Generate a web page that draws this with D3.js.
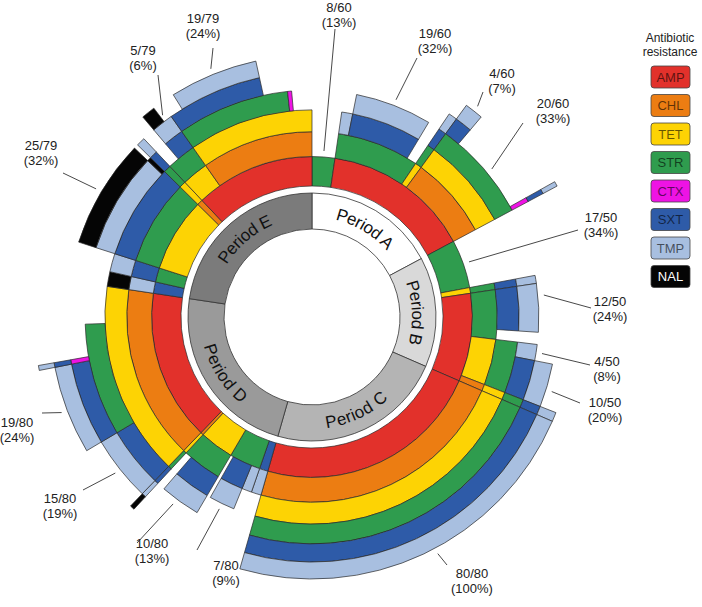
<!DOCTYPE html>
<html><head><meta charset="utf-8">
<script src="https://cdn.jsdelivr.net/npm/d3@7"></script>
<style>
body{margin:0;background:#fff;}
text{font-family:"Liberation Sans",Arial,Helvetica,sans-serif;}
</style>
</head><body>
<svg id="chart" width="702" height="607"></svg>
<script>
// ---------- data ----------
const antibiotics = ["AMP","CHL","TET","STR","CTX","SXT","TMP","NAL"];
const periodNames = ["Period A","Period B","Period C","Period D","Period E"];

// resistance profiles per period, in drawing order (clockwise): [profile, isolates]
const periodA = [["STR",8],["AMP-STR-TMP",3],["AMP-STR-SXT-TMP",19],["AMP-STR",3],["AMP-TET-STR-SXT-TMP",2],
  ["AMP-CHL-TET-STR-SXT-TMP",4],["AMP-CHL-TET-STR",20],["AMP-CHL-TET-STR-CTX-SXT-TMP",1]];
const periodB = [["STR",17],["TET-STR-SXT-TMP",2],["AMP-STR-SXT-TMP",12],["AMP-STR",3],["AMP-TET-STR-TMP",4],
  ["AMP-TET-STR-SXT-TMP",10],["AMP-CHL-TET-STR-SXT-TMP",2]];
const periodC = [["AMP-CHL-TET-STR-SXT-TMP",80]];
const periodD = [["SXT-TMP",3],["STR-TMP",3],["STR-SXT-TMP",7],["STR",1],["TET-STR-SXT-TMP",10],["TET-STR",2],
  ["CHL-TET-STR-SXT-TMP-NAL",1],["AMP-CHL-TET-SXT-TMP",15],["AMP-CHL-TET-STR-SXT-TMP",19],
  ["AMP-CHL-TET-STR-CTX-SXT-TMP",1],["AMP-CHL-TET-STR",8],["AMP-CHL-TET",10]];
const periodE = [["SXT-TMP-NAL",4],["STR-SXT-TMP",5],["TET-STR-SXT-TMP-NAL",25],["TET-STR-SXT-NAL",1],
  ["CHL-TET-STR-SXT-TMP",2],["AMP-TET-STR",3],["AMP-TET-STR-SXT-TMP-NAL",3],["AMP-TET-STR-SXT-TMP",2],
  ["AMP-CHL-TET-STR-SXT",3],["AMP-CHL-TET-STR-SXT-TMP",19],["AMP-CHL-TET-STR",6],
  ["AMP-CHL-TET-CTX",1],["AMP-CHL-TET",5]];
const periodData = [periodA, periodB, periodC, periodD, periodE];

// annotated profiles: [period index, profile index]
const labelTargets = [[0,0],[0,2],[0,5],[0,6],[1,0],[1,2],[1,4],[1,5],[2,0],[3,2],[3,4],[3,7],[3,8],[4,2],[4,7],[4,9]];
const labelTexts = [["8/60","(13%)"],["19/60","(32%)"],["4/60","(7%)"],["20/60","(33%)"],
  ["17/50","(34%)"],["12/50","(24%)"],["4/50","(8%)"],["10/50","(20%)"],["80/80","(100%)"],
  ["7/80","(9%)"],["10/80","(13%)"],["15/80","(19%)"],["19/80","(24%)"],
  ["25/79","(32%)"],["5/79","(6%)"],["19/79","(24%)"]];

// ---------- layout / style ----------
const colors = {AMP:"#e2312b",CHL:"#ec7d12",TET:"#fdd304",STR:"#2f9c4e",CTX:"#ee13e4",SXT:"#2e5ba8",TMP:"#a8bfe0",NAL:"#050505"};
const periodFill = ["#ffffff","#d9d9d9","#b4b4b4","#9a9a9a","#7b7b7b"];
// label text anchor [x, baseline] and leader outer end [x,y], plus angular position inside the profile
const labelLayout = [
  {t:[339,12], e:[335,29], f:0.5},{t:[435,38], e:[417,58], f:0.5},{t:[502,78], e:[483,92], f:0.5},{t:[553,108], e:[523,123], f:0.5},
  {t:[601,222], e:[578,230], f:0.5},{t:[610,306], e:[591,308], f:0.25},{t:[607,366], e:[590,365], f:0.5},{t:[605,407], e:[580,403], f:0.6},
  {t:[472,578], e:[447,565], f:0.467},
  {t:[226,570], e:[197,550], f:0.5},{t:[152,548], e:[137,543], f:0.6},{t:[60,503], e:[83,490], f:0.5},{t:[17,427], e:[42,413], f:0.5},
  {t:[41,150], e:[63,173], f:0.5},{t:[143,55], e:[158,75], f:0.3},{t:[203,23], e:[213,48], f:0.5}
];

const cx = 312, cy = 317;
const svg = d3.select("#chart");
const g = svg.append("g").attr("transform", `translate(${cx},${cy})`);

const total = d3.sum(periodData, p => d3.sum(p, d => d[1]));
const angle = d3.scaleLinear().domain([0, total]).range([0, 2 * Math.PI]);
const radius = d3.scaleSqrt().domain([0, 9]).range([0, Math.sqrt(9 * 8580)]);

// build segments, merging consecutive profiles that share a prefix
let offset = 0;
const segs = [], periodArcs = [], items = [];
periodData.forEach((profiles, pi) => {
  const start = offset;
  const its = profiles.map(([s, c]) => { const it = {path: s.split("-"), a0: offset, a1: offset + c}; offset += c; return it; });
  periodArcs.push({pi, a0: start, a1: offset});
  items.push(its);
  const maxLen = d3.max(its, d => d.path.length);
  for (let k = 0; k < maxLen; k++) {
    let cur = null;
    its.forEach(it => {
      if (it.path.length <= k) { cur = null; return; }
      const key = it.path.slice(0, k + 1).join("-");
      if (cur && cur.key === key) cur.a1 = it.a1;
      else { cur = {key, k, ab: it.path[k], a0: it.a0, a1: it.a1}; segs.push(cur); }
    });
  }
});

const arc = d3.arc()
  .innerRadius(d => radius(d.k + 2)).outerRadius(d => radius(d.k + 3))
  .startAngle(d => angle(d.a0)).endAngle(d => angle(d.a1));

g.append("g").selectAll("path").data(segs).join("path")
  .attr("d", arc).attr("fill", d => colors[d.ab])
  .attr("stroke", "#2a2a2a").attr("stroke-width", 0.7).attr("stroke-linejoin", "round");

// period ring
const pArc = d3.arc().innerRadius(88).outerRadius(124)
  .startAngle(d => angle(d.a0)).endAngle(d => angle(d.a1));
g.append("g").selectAll("path").data(periodArcs).join("path")
  .attr("d", pArc).attr("fill", d => periodFill[d.pi]).attr("stroke", "#333").attr("stroke-width", 0.8);

// curved period labels
const pt = (a, r) => [r * Math.sin(a), -r * Math.cos(a)];
const defs = svg.append("defs");
periodArcs.forEach(d => {
  const a0 = angle(d.a0), a1 = angle(d.a1), m = (a0 + a1) / 2;
  const flip = m > Math.PI / 2 && m < 3 * Math.PI / 2;
  const R = 106;
  const large = (a1 - a0) > Math.PI ? 1 : 0;
  let p;
  if (!flip) { const s = pt(a0, R), e = pt(a1, R); p = `M${s[0]},${s[1]}A${R},${R} 0 ${large} 1 ${e[0]},${e[1]}`; }
  else { const s = pt(a1, R), e = pt(a0, R); p = `M${s[0]},${s[1]}A${R},${R} 0 ${large} 0 ${e[0]},${e[1]}`; }
  defs.append("path").attr("id", "pp" + d.pi).attr("d", p);
  g.append("text").attr("font-size", 17).attr("fill", "#111").attr("dy", "0.35em")
    .append("textPath").attr("href", "#pp" + d.pi).attr("startOffset", "50%").attr("text-anchor", "middle")
    .text(periodNames[d.pi]);
});

// annotations
const ann = svg.append("g");
labelTargets.forEach(([pi, ii], i) => {
  const it = items[pi][ii], L = labelLayout[i];
  const a = angle(it.a0 + (it.a1 - it.a0) * L.f);
  const r = radius(it.path.length + 2) + 6;
  const [px, py] = pt(a, r);
  ann.append("line").attr("x1", cx + px).attr("y1", cy + py).attr("x2", L.e[0]).attr("y2", L.e[1])
    .attr("stroke", "#333").attr("stroke-width", 0.9);
  const tx = ann.append("text").attr("font-size", 13).attr("fill", "#222").attr("text-anchor", "middle");
  labelTexts[i].forEach((s, j) => tx.append("tspan").attr("x", L.t[0]).attr("y", L.t[1] + j * 15).text(s));
});

// legend
const lg = svg.append("g");
lg.append("text").attr("x", 670).attr("y", 42).attr("text-anchor", "middle").attr("font-size", 12).attr("fill", "#222").text("Antibiotic");
lg.append("text").attr("x", 670).attr("y", 56).attr("text-anchor", "middle").attr("font-size", 12).attr("fill", "#222").text("resistance");
const ly = d3.scaleBand().domain(antibiotics).range([66, 66 + 28.5 * 8]).paddingInner(0);
antibiotics.forEach(ab => {
  lg.append("rect").attr("x", 651).attr("y", ly(ab)).attr("width", 39).attr("height", 22).attr("rx", 3)
    .attr("fill", colors[ab]).attr("stroke", "#444").attr("stroke-width", 0.8);
  lg.append("text").attr("x", 670.5).attr("y", ly(ab) + 15.5).attr("text-anchor", "middle").attr("font-size", 13)
    .attr("fill", ab === "NAL" ? "#fff" : "#000").attr("fill-opacity", ab === "NAL" ? 1 : 0.6).text(ab);
});
</script>
</body></html>
